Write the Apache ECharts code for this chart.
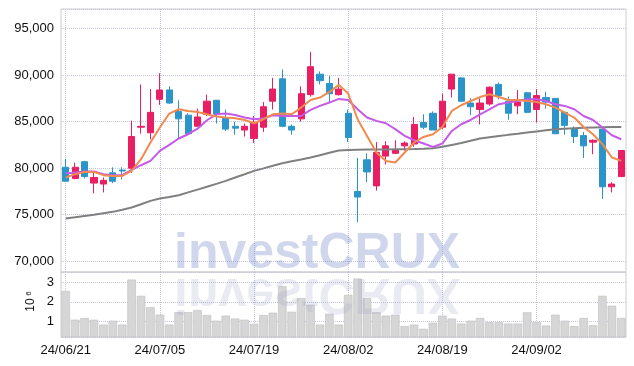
<!DOCTYPE html>
<html><head><meta charset="utf-8">
<script src="https://cdn.jsdelivr.net/npm/echarts@6/dist/echarts.min.js"></script>
<style>html,body{margin:0;padding:0;background:#fff}#c{width:634px;height:366px}</style>
</head><body><div id="c"></div>
<script>
const dates = ['24/06/21','24/06/24','24/06/25','24/06/26','24/06/27','24/06/28',
'24/07/01','24/07/02','24/07/03','24/07/04','24/07/05',
'24/07/08','24/07/09','24/07/10','24/07/11','24/07/12',
'24/07/15','24/07/16','24/07/17','24/07/18','24/07/19',
'24/07/22','24/07/23','24/07/24','24/07/25','24/07/26',
'24/07/29','24/07/30','24/07/31','24/08/01','24/08/02',
'24/08/05','24/08/06','24/08/07','24/08/08','24/08/09',
'24/08/12','24/08/13','24/08/14','24/08/16',
'24/08/19','24/08/20','24/08/21','24/08/22','24/08/23',
'24/08/26','24/08/27','24/08/28','24/08/29','24/08/30',
'24/09/02','24/09/03','24/09/04','24/09/05','24/09/06',
'24/09/09','24/09/10','24/09/11','24/09/12','24/09/13'];

const opens  = [80100,78900,80700,78400,78300,79500,79800,80000,84400,83800,87400,88400,86100,85700,84500,85800,87300,85400,84500,84100,83200,84400,87200,89600,84500,85300,87900,90100,89100,87900,85900,77500,80900,78100,81300,81600,82400,82600,84900,85900,84400,88500,89700,87000,86300,86900,89000,87200,86700,88100,86300,87600,87500,86000,84200,83500,82800,84200,78000,79100];
const closes = [78600,80100,79100,79000,78700,78600,79700,83400,84500,86000,88400,87000,85300,83700,85500,87200,85800,84200,84300,84500,84900,86600,88500,84500,84100,88000,90900,89400,88000,88500,83300,76900,79600,81700,82400,82000,82700,84700,84400,84100,87200,90100,87200,86600,87000,88700,87800,85900,87100,86000,87800,87100,83700,84600,83400,82400,83000,78000,78300,81900];
const lows   = [78600,78800,78900,77300,77400,78400,78800,79500,83700,83100,86800,86900,83100,83600,84500,85600,84800,84000,83600,83400,82700,83900,86300,84400,83600,85000,87700,89000,87100,87800,82800,74200,78500,77600,80400,81500,81900,82300,84200,84100,84200,87600,87100,85700,84700,86700,87400,85200,85800,85900,84900,86400,83700,83600,82700,81100,81500,76700,77400,79100];
const highs  = [81000,80600,80800,79500,79000,80100,80100,85100,89000,88500,90200,88800,87300,85900,86400,87900,87300,86300,85000,84800,85600,87100,89700,90600,84700,88800,92500,90400,89900,89700,86300,81100,81600,82800,82900,83000,82900,85500,85800,86100,88000,90100,89800,87500,87500,88800,89200,87700,88400,88200,88500,88200,87500,86100,84500,83900,83100,84200,78500,81900];

const volumes = [2.56,1.08,1.17,1.08,0.83,1.03,0.83,3.15,2.31,1.73,1.34,0.83,1.47,1.47,1.58,1.32,1.03,1.29,1.14,1.08,0.87,1.32,1.44,2.81,1.49,2.19,1.85,0.83,1.39,0.83,2.36,3.20,2.19,1.46,1.29,1.34,0.75,0.83,0.61,0.92,1.29,1.14,0.88,1.03,1.17,0.95,0.95,0.88,0.88,1.46,0.95,0.78,1.34,1.03,0.75,1.17,0.80,2.31,1.80,1.17];

const ma5  = [79000,79360,79600,79600,79250,79170,79170,79710,80970,82760,84370,85870,86330,86150,86040,85790,85550,85440,85370,85180,84830,85260,85790,85870,85790,86510,87330,87590,88190,88950,88020,85260,83470,81690,80780,80610,81690,82760,83360,83650,84430,86150,86760,87220,87640,87940,87650,87330,87330,87220,87110,86870,86510,85980,85440,84430,83650,82580,81150,80780];
const ma10 = [79430,79540,79650,79650,79360,79250,79250,79820,80320,80780,81860,82500,83190,83650,84250,85150,85790,85870,85720,85440,85260,85330,85690,85610,85610,85610,86260,86690,87050,87440,87330,86330,85440,85080,84830,84190,83470,83000,82650,82290,82650,84000,84720,85180,85790,86330,86870,87050,87220,87400,87400,87220,86870,86690,86330,85610,85180,84370,83540,83110];
const ma60 = [74600,74730,74870,75010,75160,75310,75540,75780,76130,76490,76740,76900,77100,77400,77700,78000,78320,78640,79000,79350,79710,79980,80260,80540,80740,80940,81150,81400,81650,81900,81950,81980,82000,82010,82020,82030,82040,82060,82100,82150,82300,82500,82700,82950,83180,83320,83450,83580,83700,83830,83950,84070,84180,84250,84300,84350,84380,84400,84420,84430];

const UP = '#e91e63', DOWN = '#2b95c9';
const gridLine = {show:true, lineStyle:{type:'dotted', color:'#c4c7dc', width:1}};
const labelFont = {color:'#111', fontSize:13, fontFamily:'Liberation Sans'};

const chart = echarts.init(document.getElementById('c'), null, {renderer:'canvas'});
chart.setOption({
  animation:false,
  backgroundColor:'#fff',
  grid:[
    {left:61, right:8, top:9, height:263, show:true, borderColor:'#cccccc', borderWidth:1},
    {left:61, right:8, top:272, height:65, show:true, borderColor:'#cccccc', borderWidth:1}
  ],
  xAxis:[
    {type:'category', gridIndex:0, data:dates, boundaryGap:true,
     axisLine:{show:false}, axisTick:{show:false}, axisLabel:{show:false},
     splitLine:Object.assign({interval:9, alignWithLabel:true}, gridLine)},
    {type:'category', gridIndex:1, data:dates, boundaryGap:true,
     axisLine:{show:false}, axisTick:{show:false},
     axisLabel:Object.assign({interval:9, margin:7}, labelFont),
     splitLine:Object.assign({interval:9, alignWithLabel:true}, gridLine)}
  ],
  yAxis:[
    {type:'value', gridIndex:0, min:68850, max:97100, splitNumber:5,
     axisLine:{show:false}, axisTick:{show:false},
     axisLabel:Object.assign({showMinLabel:false, showMaxLabel:false, margin:7, padding:[4,0,0,0],
       formatter:v=>v.toLocaleString('en-US')}, labelFont),
     splitLine:gridLine},
    {type:'value', gridIndex:1, min:190000, max:3540000, splitNumber:3,
     axisLine:{show:false}, axisTick:{show:false},
     axisLabel:Object.assign({showMinLabel:false, showMaxLabel:false, margin:7, padding:[3,0,0,0],
       formatter:v=>(v % 1000000 === 0 ? String(v/1000000) : '')}, labelFont),
     splitLine:gridLine}
  ],
  series:[
    {type:'candlestick', xAxisIndex:0, yAxisIndex:0, barWidth:'70%',
     data:dates.map((d,i)=>[opens[i], closes[i], lows[i], highs[i]]),
     itemStyle:{color:UP, color0:DOWN, borderColor:UP, borderColor0:DOWN, borderWidth:1}},
    {type:'line', name:'MA60', xAxisIndex:0, yAxisIndex:0, data:ma60, showSymbol:false,
     lineStyle:{color:'#808080', width:2}},
    {type:'line', name:'MA10', xAxisIndex:0, yAxisIndex:0, data:ma10, showSymbol:false,
     lineStyle:{color:'#c65ae8', width:2}},
    {type:'line', name:'MA5', xAxisIndex:0, yAxisIndex:0, data:ma5, showSymbol:false,
     lineStyle:{color:'#f08a4e', width:2}},
    {type:'bar', xAxisIndex:1, yAxisIndex:1, data:volumes.map(v=>v*1000000),
     barCategoryGap:'10%',
     itemStyle:{color:'#d6d6d6', borderColor:'#bdbdbd', borderWidth:0.6}}
  ],
  graphic:[
    {type:'text', x:174, y:272, z:100, silent:true,
     style:{text:'investCRUX', x:0, y:-17.5, font:'bold 50px "Liberation Sans"',
       fill:'rgba(120,140,200,0.35)', align:'left', verticalAlign:'middle'}},
    {type:'text', x:174, y:275, scaleY:-1, z:100, silent:true,
     style:{text:'investCRUX', x:0, y:-17.5, font:'bold 50px "Liberation Sans"',
       fill:'rgba(150,150,190,0.2)', align:'left', verticalAlign:'middle'}},
    {type:'text', x:31, y:305, rotation:Math.PI/2, z:100, silent:true,
     style:{text:'10', x:0, y:0, font:'12px "Liberation Sans"', fill:'#111',
       align:'center', verticalAlign:'middle'}},
    {type:'text', x:28.5, y:293.5, rotation:Math.PI/2, z:100, silent:true,
     style:{text:'6', x:0, y:0, font:'8px "Liberation Sans"', fill:'#111',
       align:'center', verticalAlign:'middle'}}
  ]
});
</script></body></html>
